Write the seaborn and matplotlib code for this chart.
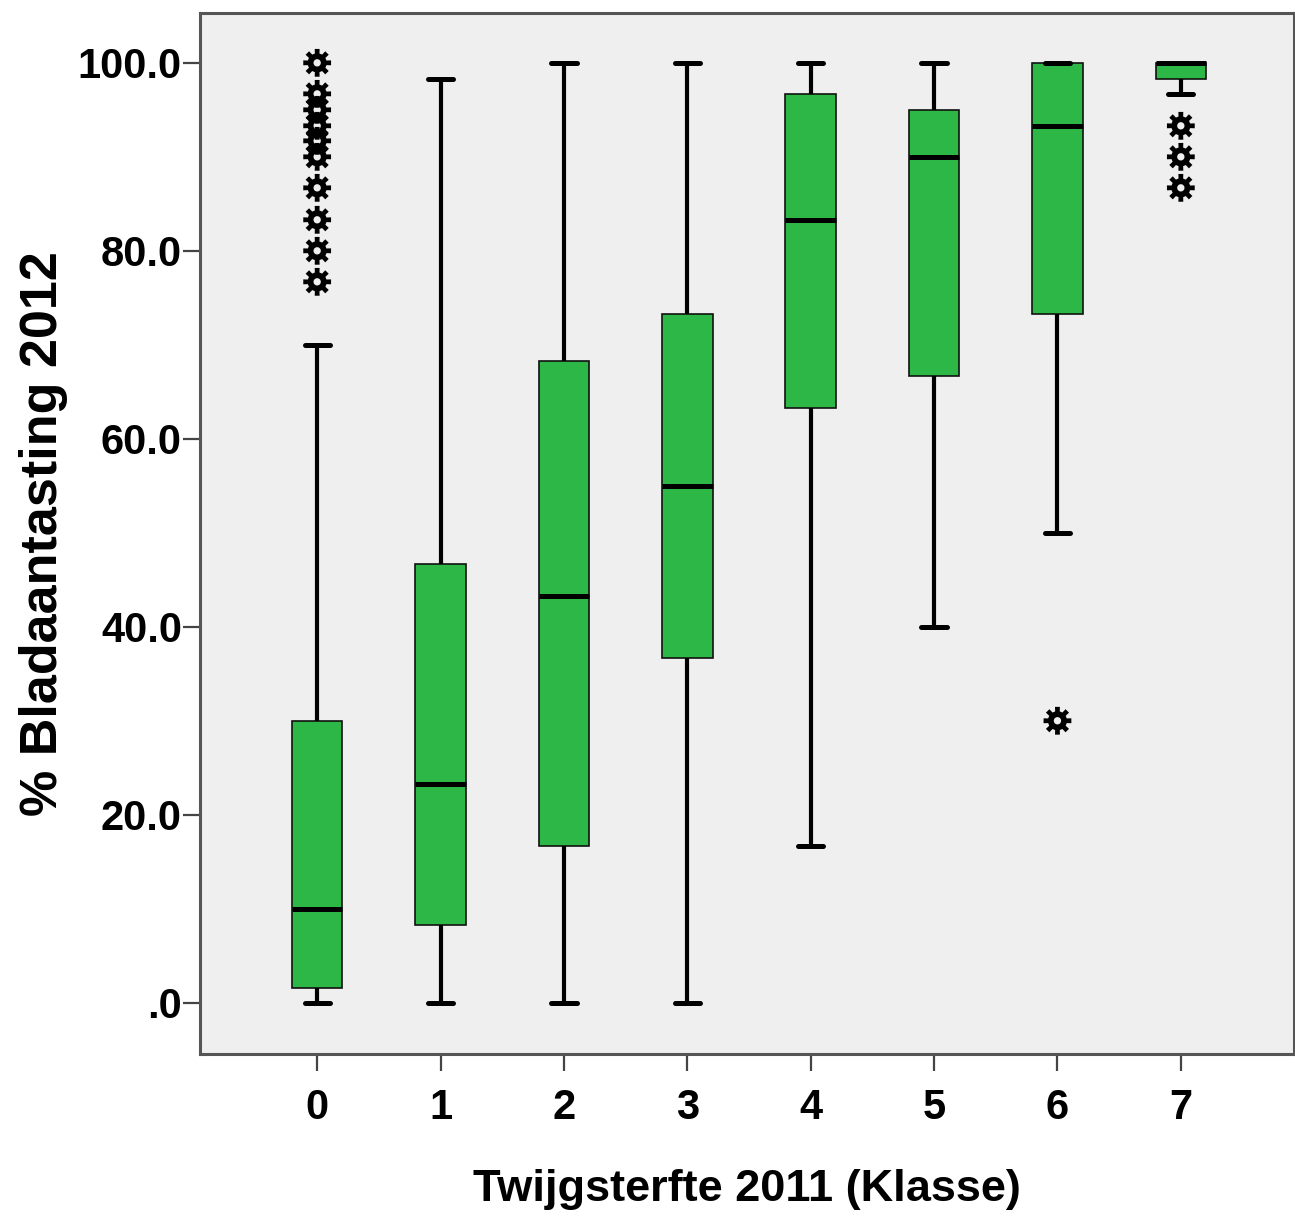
import numpy as np
import pandas as pd
import matplotlib
matplotlib.use("Agg")
import matplotlib.pyplot as plt
from matplotlib.path import Path
from matplotlib import font_manager
import seaborn as sns

# ---- data ----
klasse = ["0", "1", "2", "3", "4", "5", "6", "7"]
whisker_low = [0.0, 0.0, 0.0, 0.0, 16.7, 40.0, 50.0, 96.7]
q1 = [1.6, 8.3, 16.7, 36.7, 63.3, 66.7, 73.3, 98.3]
median = [10.0, 23.3, 43.3, 55.0, 83.3, 90.0, 93.3, 100.0]
q3 = [30.0, 46.7, 68.3, 73.3, 96.7, 95.0, 100.0, 100.0]
whisker_high = [70.0, 98.3, 100.0, 100.0, 100.0, 100.0, 100.0, 100.0]

outlier_klasse = [0, 0, 0, 0, 0, 0, 0, 0, 0, 0, 6, 7, 7, 7]
outlier_value = [100.0, 96.7, 95.0, 93.3, 91.7, 90.0, 86.7, 83.3, 80.0, 76.7,
                 30.0, 93.3, 90.0, 86.7]

y_ticks = [0, 20, 40, 60, 80, 100]
y_ticklabels = [".0", "20.0", "40.0", "60.0", "80.0", "100.0"]

x_label = "Twijgsterfte 2011 (Klasse)"
y_label = "% Bladaantasting 2012"

# ---- theme & fonts ----
sns.set_theme(style="white")
names = {f.name for f in font_manager.fontManager.ttflist}
has_narrow = "Liberation Sans Narrow" in names
narrow = "Liberation Sans Narrow" if has_narrow else "Liberation Sans"
wide = "Liberation Sans"
plt.rcParams["font.family"] = [narrow, "DejaVu Sans"]
plt.rcParams["text.color"] = "black"
plt.rcParams["axes.labelcolor"] = "black"
plt.rcParams["xtick.color"] = "#444444"
plt.rcParams["ytick.color"] = "#444444"

tick_fs = 35 if has_narrow else 30
xlab_fs = 39 if has_narrow else 32.5

# long table of five-number summaries per class
rows = []
for k, a, b, c, d, e in zip(klasse, whisker_low, q1, median, q3, whisker_high):
    for v in (a, b, c, d, e):
        rows.append({"Klasse": k, "Waarde": v})
df = pd.DataFrame(rows)

fig = plt.figure(figsize=(12.95, 12.17), dpi=100)
fig.patch.set_facecolor("white")
ax = fig.add_axes([0.1544, 0.1339, 0.9995 - 0.1544, 0.9893 - 0.1339])
ax.set_facecolor("#efefef")

green = "#2db746"
sns.boxplot(data=df, x="Klasse", y="Waarde", order=klasse, ax=ax,
            color=green, saturation=1, width=0.41, whis=(0, 100),
            showfliers=False, linecolor="black", linewidth=1.2,
            boxprops=dict(linewidth=1.2, edgecolor="#111111"),
            medianprops=dict(linewidth=3.6, color="black"),
            whiskerprops=dict(linewidth=3.0, color="black"),
            capprops=dict(linewidth=3.6, color="black"))

# gear-like SPSS outlier marker (ring with 8 teeth)
verts, codes = [], []
r_out, r_in, hole = 1.0, 0.68, 0.26
first = True
for k in range(8):
    th = np.deg2rad(k * 45)
    for r, d in ((r_in, -14), (r_out, -10), (r_out, 10), (r_in, 14)):
        a = th + np.deg2rad(d)
        verts.append((r * np.cos(a), r * np.sin(a)))
        codes.append(Path.MOVETO if first else Path.LINETO)
        first = False
verts.append(verts[0]); codes.append(Path.CLOSEPOLY)
n = 24
for i in range(n + 1):
    a = -2 * np.pi * i / n
    verts.append((hole * np.cos(a), hole * np.sin(a)))
    codes.append(Path.MOVETO if i == 0 else (Path.CLOSEPOLY if i == n else Path.LINETO))
gear = Path(verts, codes)

sns.scatterplot(x=outlier_klasse, y=outlier_value, ax=ax, marker=gear,
                s=400, color="black", edgecolor="none", linewidth=0, zorder=5)

ax.set_xlim(-0.95, 7.92)
ax.set_ylim(-5.46, 105.3)
ax.set_yticks(y_ticks)
ax.set_yticklabels(y_ticklabels)
ax.set_xticks(range(len(klasse)))
ax.set_xticklabels(klasse)

for lab in ax.get_xticklabels() + ax.get_yticklabels():
    lab.set_fontweight("bold")
    lab.set_fontsize(tick_fs)
    lab.set_color("black")

ax.tick_params(axis="both", which="major", direction="out", length=12,
               width=1.6, color="#444444", bottom=True, left=True)
ax.tick_params(axis="y", pad=1)
ax.tick_params(axis="x", pad=12.5)

for sp in ax.spines.values():
    sp.set_visible(True)
    sp.set_color("#555555")
    sp.set_linewidth(2.2)

ax.set_xlabel(x_label, fontsize=xlab_fs, fontweight="bold", color="black")
ax.xaxis.set_label_coords(0.5, -0.1105)
ax.set_ylabel(y_label, fontsize=37.5, fontweight="bold", color="black",
              family=[wide, "DejaVu Sans"])
ax.yaxis.set_label_coords(-0.121, 0.5)

fig.savefig("out.png", dpi=100, facecolor="white")
